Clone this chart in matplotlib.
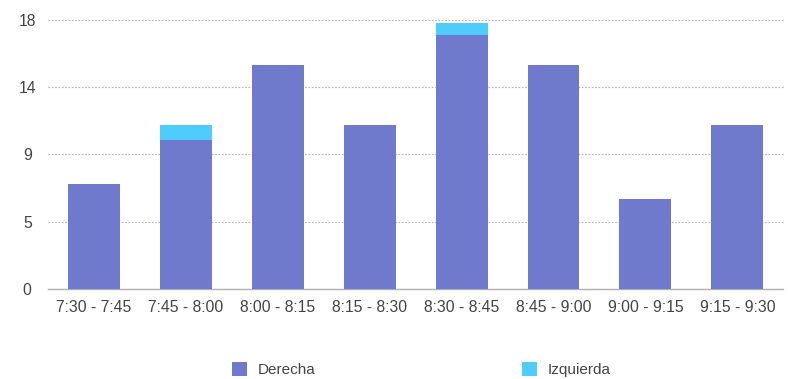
import numpy as np
import matplotlib
matplotlib.use('Agg')
import matplotlib.pyplot as plt

plt.rcParams['font.family'] = ['Liberation Sans', 'DejaVu Sans']

categories = ['7:30 - 7:45', '7:45 - 8:00', '8:00 - 8:15', '8:15 - 8:30',
              '8:30 - 8:45', '8:45 - 9:00', '9:00 - 9:15', '9:15 - 9:30']
derecha = [7, 10, 15, 11, 17, 15, 6, 11]
izquierda = [0, 1, 0, 0, 0.8, 0, 0, 0]
yticks = [0, 4.5, 9, 13.5, 18]
ytick_labels = ['0', '5', '9', '14', '18']

col_der = '#707acc'
col_izq = '#4ecdfd'
text_col = '#444444'

fig = plt.figure(figsize=(7.88, 3.79), dpi=100)
ax = fig.add_axes([0.061, 0.2375, 0.933, 0.7097])

x = np.arange(len(categories))
ax.bar(x, derecha, width=0.565, color=col_der, label='Derecha', zorder=3)
ax.bar(x, izquierda, width=0.565, bottom=derecha, color=col_izq, label='Izquierda', zorder=3)

ax.set_xlim(-0.5, len(categories) - 0.5)
ax.set_ylim(0, 18)
ax.set_yticks(yticks)
ax.set_yticklabels(ytick_labels)
ax.set_xticks(x)
ax.set_xticklabels(categories)
ax.tick_params(axis='both', length=0, labelsize=11.3, colors=text_col)
ax.tick_params(axis='y', pad=15)
for lab in ax.get_yticklabels():
    lab.set_horizontalalignment('center')
ax.tick_params(axis='x', pad=8)

for yv in yticks[1:]:
    ax.axhline(yv, color='#b5b5b5', linestyle=(0, (1.5, 1.5)), linewidth=0.8, zorder=1, clip_on=False)

for s in ['top', 'right', 'left']:
    ax.spines[s].set_visible(False)
ax.spines['bottom'].set_color('#b0b0b0')
ax.spines['bottom'].set_linewidth(1)

fig.legend(loc='center', bbox_to_anchor=(0.535, 0.025), ncol=2, frameon=False,
           fontsize=11, columnspacing=13.5, handlelength=1.0, handleheight=1.0,
           handletextpad=0.7, labelcolor=text_col)

fig.savefig('out.png', dpi=100)
